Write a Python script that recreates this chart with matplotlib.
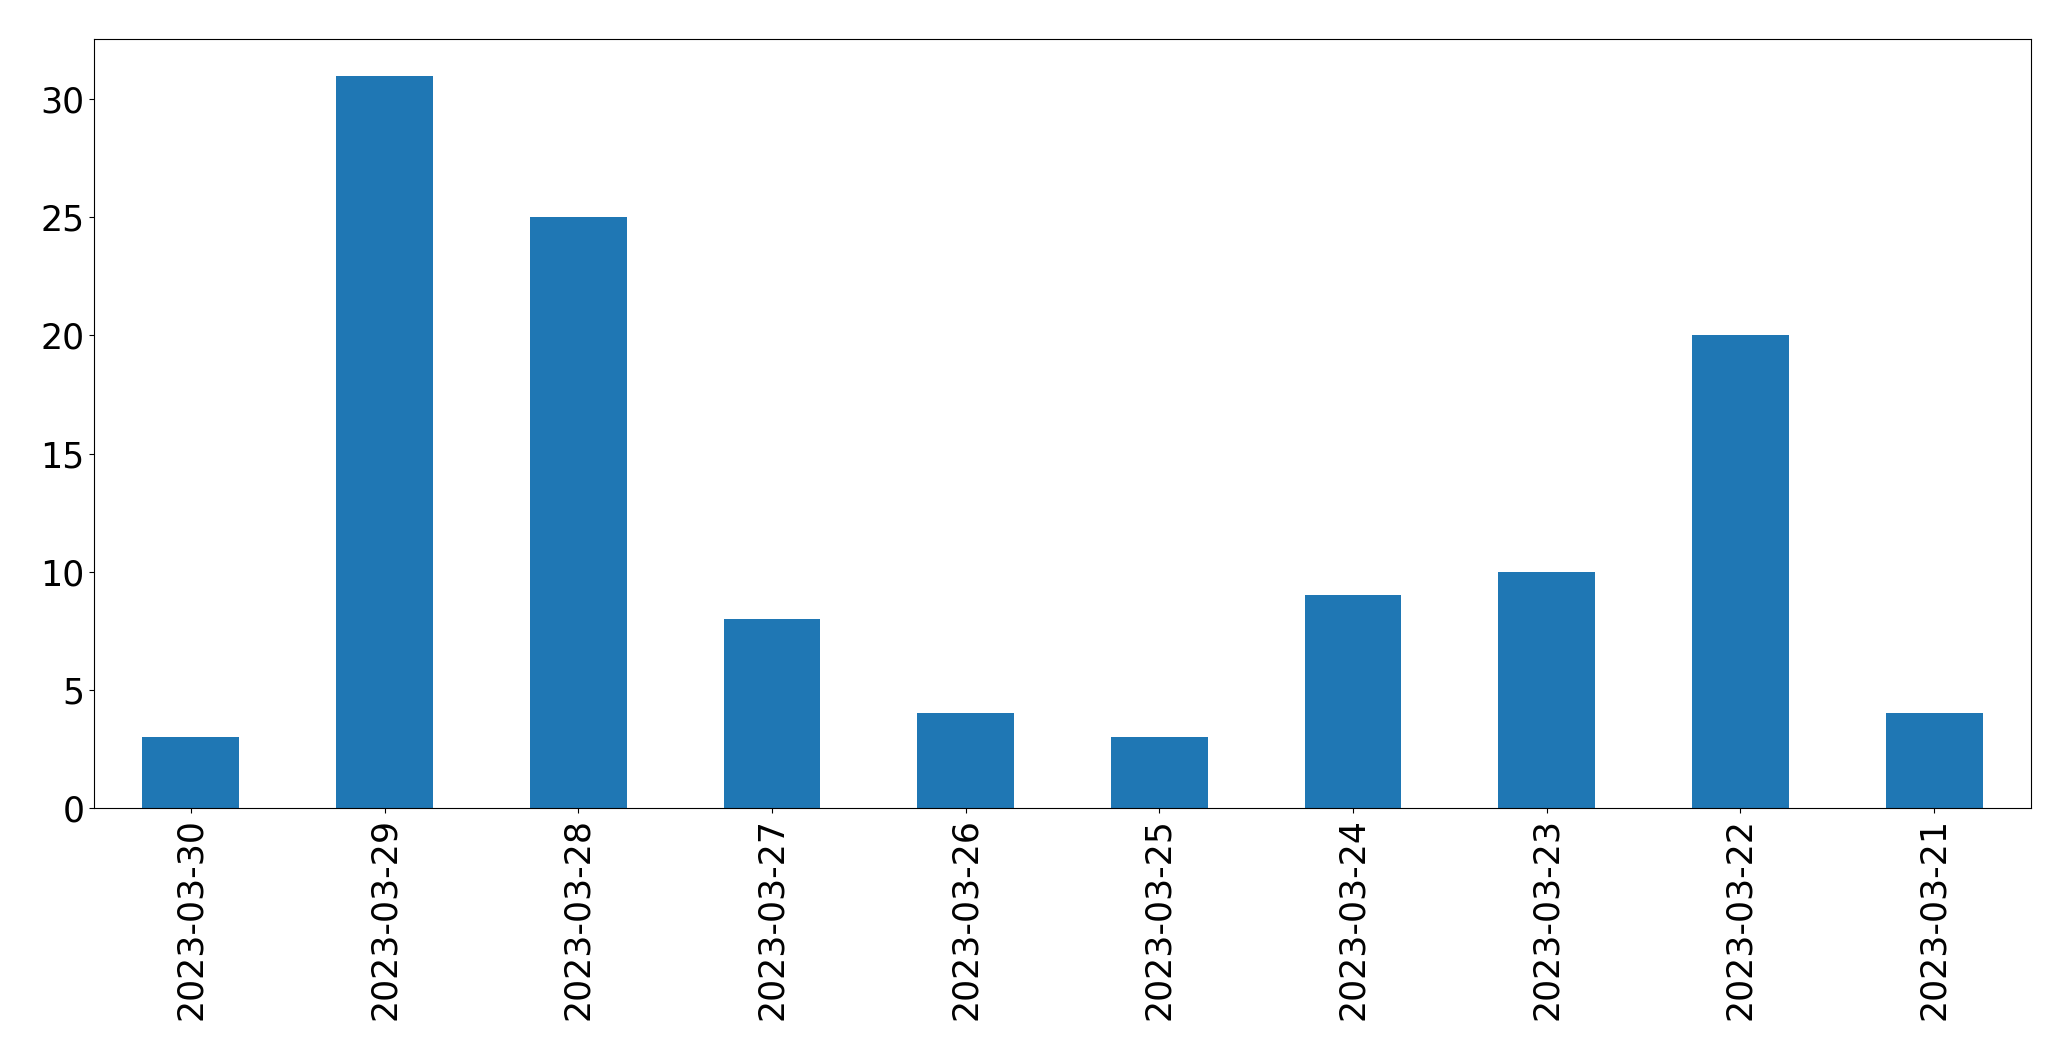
import matplotlib
matplotlib.use("Agg")
import matplotlib.pyplot as plt
import numpy as np

dates = ["2023-03-30", "2023-03-29", "2023-03-28", "2023-03-27", "2023-03-26",
         "2023-03-25", "2023-03-24", "2023-03-23", "2023-03-22", "2023-03-21"]
counts = [3, 31, 25, 8, 4, 3, 9, 10, 20, 4]

fig = plt.figure(figsize=(20.71, 10.61), dpi=100)
ax = fig.add_axes([94 / 2071, 1 - 808 / 1061, (2031 - 94) / 2071, (808 - 39) / 1061])

x = np.arange(len(dates))
ax.bar(x, counts, width=0.5, color="#1f77b4")
ax.set_xlim(-0.5, len(dates) - 0.5)
ax.set_ylim(0, 32.55)
ax.set_xticks(x)
ax.set_xticklabels(dates, rotation=90)
ax.tick_params(labelsize=25)

fig.savefig("out.png", dpi=100)
